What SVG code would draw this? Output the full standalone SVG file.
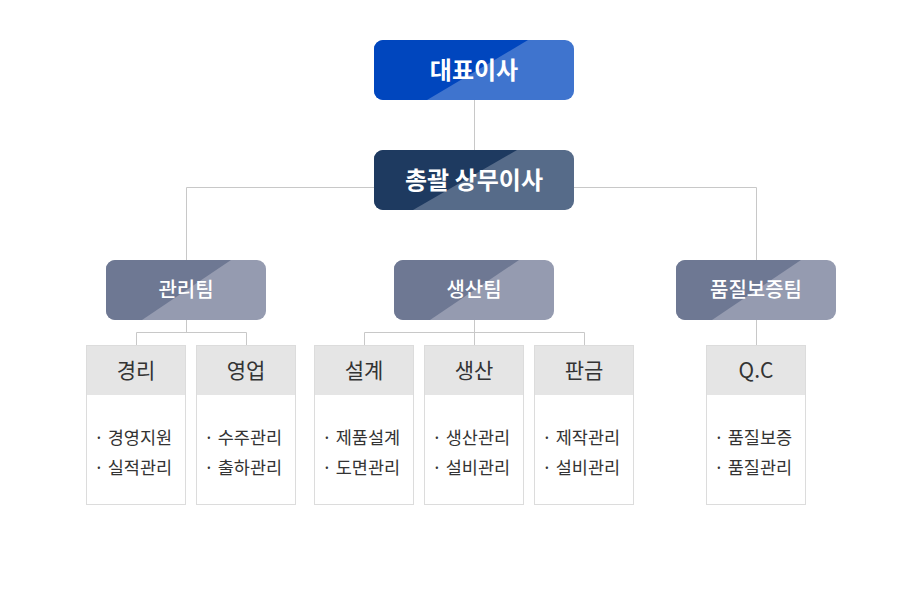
<svg xmlns="http://www.w3.org/2000/svg" width="923" height="609" viewBox="0 0 923 609">
<defs>
<style>
text{font-family:"Noto Sans CJK KR","Noto Sans",sans-serif;text-anchor:middle}
.top{font-size:24px;font-weight:700;fill:#fff}
.team{font-size:20px;font-weight:500;fill:#fff}
.hd{font-size:21px;font-weight:400;fill:#333}
.li{font-size:17.5px;font-weight:400;fill:#333;text-anchor:start}
.conn{fill:none;stroke:#c8c8c8;stroke-width:1}
.box{fill:#fff;stroke:#dcdcdc;stroke-width:1}
.hdbg{fill:#e5e5e5}
</style>
<clipPath id="c1"><rect x="374" y="40" width="200" height="60" rx="9"/></clipPath>
<clipPath id="c2"><rect x="374" y="150" width="200" height="60" rx="9"/></clipPath>
<clipPath id="t1"><rect x="106" y="260" width="160" height="60" rx="9"/></clipPath>
<clipPath id="t2"><rect x="394" y="260" width="160" height="60" rx="9"/></clipPath>
<clipPath id="t3"><rect x="676" y="260" width="160" height="60" rx="9"/></clipPath>
</defs>
<rect width="923" height="609" fill="#fff"/>
<g id="connectors">
<path class="conn" d="M474.5 100V150M186.5 260V187.5H756.5V260M186.5 320V332.5M136.5 345V332.5H246.5V345M474.5 320V332.5M364.5 345V332.5H584.5V345M474.5 332V345M756.5 320V345"/>
</g>
<g id="ceo">
<g clip-path="url(#c1)">
<rect x="374" y="40" width="200" height="60" fill="#3f74ce"/>
<polygon points="374,40 528,40 427,100 374,100" fill="#0046be"/>
</g>
<text class="top" x="474" y="79">대표이사</text>
</g>
<g id="gm">
<g clip-path="url(#c2)">
<rect x="374" y="150" width="200" height="60" fill="#566b89"/>
<polygon points="374,150 517,150 413,210 374,210" fill="#1e3a60"/>
</g>
<text class="top" x="474" y="189">총괄 상무이사</text>
</g>
<g id="team-admin">
<g clip-path="url(#t1)">
<rect x="106" y="260" width="160" height="60" fill="#959bb0"/>
<polygon points="106,260 231,260 142,320 106,320" fill="#6e7893"/>
</g>
<text class="team" x="186" y="297">관리팀</text>
</g>
<g id="team-prod">
<g clip-path="url(#t2)">
<rect x="394" y="260" width="160" height="60" fill="#959bb0"/>
<polygon points="394,260 519,260 430,320 394,320" fill="#6e7893"/>
</g>
<text class="team" x="474" y="297">생산팀</text>
</g>
<g id="team-qa">
<g clip-path="url(#t3)">
<rect x="676" y="260" width="160" height="60" fill="#959bb0"/>
<polygon points="676,260 801,260 712,320 676,320" fill="#6e7893"/>
</g>
<text class="team" x="756" y="297">품질보증팀</text>
</g>
<g id="sub-acc">
<rect class="box" x="86.5" y="345.5" width="99" height="159"/>
<rect class="hdbg" x="87" y="346" width="98" height="49"/>
<text class="hd" x="136" y="377.5">경리</text>
<text class="li" x="94" y="444">· 경영지원</text>
<text class="li" x="94" y="474">· 실적관리</text>
</g>
<g id="sub-sales">
<rect class="box" x="196.5" y="345.5" width="99" height="159"/>
<rect class="hdbg" x="197" y="346" width="98" height="49"/>
<text class="hd" x="246" y="377.5">영업</text>
<text class="li" x="204" y="444">· 수주관리</text>
<text class="li" x="204" y="474">· 출하관리</text>
</g>
<g id="sub-design">
<rect class="box" x="314.5" y="345.5" width="99" height="159"/>
<rect class="hdbg" x="315" y="346" width="98" height="49"/>
<text class="hd" x="364" y="377.5">설계</text>
<text class="li" x="322" y="444">· 제품설계</text>
<text class="li" x="322" y="474">· 도면관리</text>
</g>
<g id="sub-prod">
<rect class="box" x="424.5" y="345.5" width="99" height="159"/>
<rect class="hdbg" x="425" y="346" width="98" height="49"/>
<text class="hd" x="474" y="377.5">생산</text>
<text class="li" x="432" y="444">· 생산관리</text>
<text class="li" x="432" y="474">· 설비관리</text>
</g>
<g id="sub-sheet">
<rect class="box" x="534.5" y="345.5" width="99" height="159"/>
<rect class="hdbg" x="535" y="346" width="98" height="49"/>
<text class="hd" x="584" y="377.5">판금</text>
<text class="li" x="542" y="444">· 제작관리</text>
<text class="li" x="542" y="474">· 설비관리</text>
</g>
<g id="sub-qc">
<rect class="box" x="706.5" y="345.5" width="99" height="159"/>
<rect class="hdbg" x="707" y="346" width="98" height="49"/>
<text class="hd" x="756" y="377.5">Q.C</text>
<text class="li" x="714" y="444">· 품질보증</text>
<text class="li" x="714" y="474">· 품질관리</text>
</g>
</svg>
